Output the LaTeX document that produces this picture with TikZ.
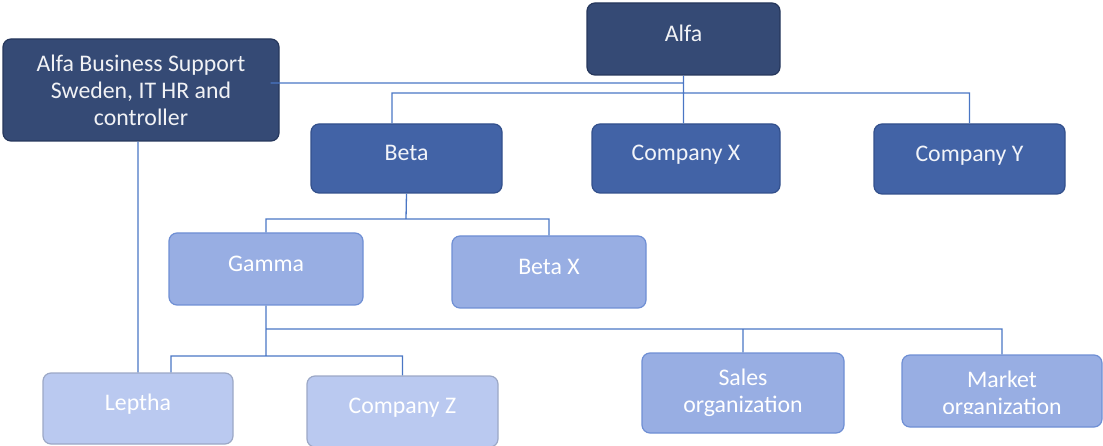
\documentclass[tikz,border=0pt]{standalone}
\usepackage{fontspec}
\setmainfont{Carlito}
\usetikzlibrary{positioning}

\definecolor{navy}{HTML}{354A75}
\definecolor{navyedge}{HTML}{26375C}
\definecolor{royal}{HTML}{4263A6}
\definecolor{royaledge}{HTML}{33508C}
\definecolor{sky}{HTML}{98AEE3}
\definecolor{skyedge}{HTML}{6F8FD4}
\definecolor{pale}{HTML}{BAC9F0}
\definecolor{paleedge}{HTML}{9CA8C6}
\definecolor{linkblue}{HTML}{4A76C4}

\begin{document}
\begin{tikzpicture}[x=1pt,y=-1pt,
    every node/.style={font=\fontsize{23.8}{27}\selectfont},
    box/.style={rectangle,rounded corners=8pt,line width=1.2pt,align=center,inner sep=0pt},
    oneline/.style={text height=0.69em,text depth=0.27em},
    unit/.style={box,fill=navy,draw=navyedge,text=white!93!navy},
    company/.style={box,fill=royal,draw=royaledge,text=white!93!royal},
    division/.style={box,fill=sky,draw=skyedge,text=white},
    office/.style={box,fill=pale,draw=paleedge,text=white},
    link/.style={draw=linkblue,line width=1.3pt}]

    \useasboundingbox (0,0) rectangle (1103,446);

    % where the horizontal bus lines run
    \coordinate (busA) at (684,83);
    \coordinate (busB) at (684,93);
    \coordinate (busC) at (406,219);
    \coordinate (busD) at (266,329);
    \coordinate (busE) at (266,356);

    \node[unit,minimum width=193pt,minimum height=72pt,oneline] (alfa) at (683.5,39) {Alfa};
    \node[unit,minimum width=276pt,minimum height=102pt] (support) at (141,90)
        {Alfa Business Support\\Sweden, IT HR and\\controller};

    \node[company,minimum width=191pt,minimum height=69pt,oneline] (beta) at (406.5,158.5) {Beta};
    \node[company,minimum width=188pt,minimum height=69pt,oneline] (compx) at (686,158.5) {Company X};
    \node[company,minimum width=191pt,minimum height=70pt,oneline] (compy) at (969.5,159) {Company Y};

    \node[division,minimum width=194pt,minimum height=72pt,oneline] (gamma) at (266,269) {Gamma};
    \node[division,minimum width=194pt,minimum height=72pt,oneline] (betax) at (549,272) {Beta X};

    \node[office,minimum width=190pt,minimum height=71pt,oneline] (leptha) at (138,408.5) {Leptha};
    \node[office,minimum width=191pt,minimum height=71pt,oneline] (compz) at (402.5,411.5) {Company Z};

    \node[division,minimum width=202pt,minimum height=80pt] (sales) at (743,393) {Sales\\organization};
    \node[division,minimum width=200pt,minimum height=72pt] (market) at (1002,391) {};
    % text frame is shorter than the box, so the second line gets cut
    \begin{scope}
      \clip (902,355) rectangle (1102,413);
      \node[text=white,align=center] (markettext) at ([yshift=-4pt]market.center) {Market\\organization};
    \end{scope}

    % connectors
    \path[link]
    (alfa.south) -- (alfa.south |- compx.north)
    ([xshift=-9pt]support.east |- busA) -- (busA)
    ([xshift=-14.5pt]beta.north) |- (compy.north |- busB) -- (compy.north)

    (beta.south) -- (busC)
    (gamma.north) |- (betax.north |- busC) -- (betax.north)

    (gamma.south) -- (busE)
    (busD) -| (sales.north)
    (busD) -| (market.north)
    ([xshift=33pt]leptha.north) |- (compz.north |- busE) -- (compz.north)

    (support.south -| leptha.north) -- (leptha.north);

\end{tikzpicture}
\end{document}
